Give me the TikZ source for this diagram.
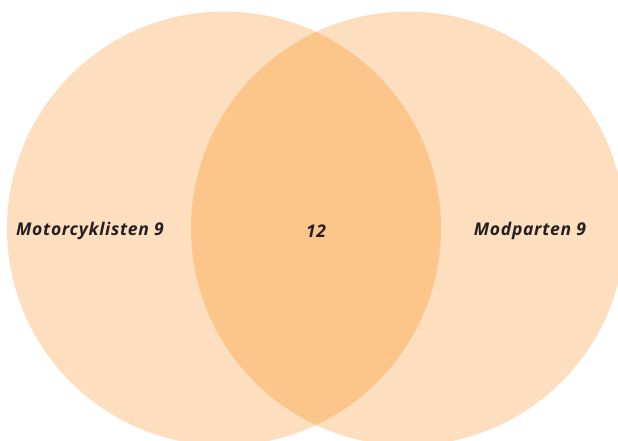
\documentclass[tikz,border=0pt]{standalone}
\usepackage{fontspec}
\setmainfont{Open Sans}
\definecolor{lightor}{RGB}{253,223,191}
\definecolor{darkor}{RGB}{252,198,138}
\definecolor{txt}{RGB}{35,31,32}
\begin{document}
\begin{tikzpicture}[x=1pt,y=-1pt,
  lbl/.style={font=\fontsize{17.5}{20}\selectfont\bfseries\itshape\addfontfeature{LetterSpace=4}, text=txt, inner sep=0pt}]
\useasboundingbox (0,0) rectangle (618,440);
\clip (0,0) rectangle (618,440);
\fill[lightor] (224,228.5) circle (217);
\fill[lightor] (408,228.5) circle (217);
\begin{scope}
\clip (224,228.5) circle (217);
\fill[darkor] (408,228.5) circle (217);
\end{scope}
\node[lbl] (a) at (90,231) {Motorcyklisten 9};
\node[lbl] (b) at (316,231) {12};
\node[lbl] (c) at (530,231) {Modparten 9};
\end{tikzpicture}
\end{document}
